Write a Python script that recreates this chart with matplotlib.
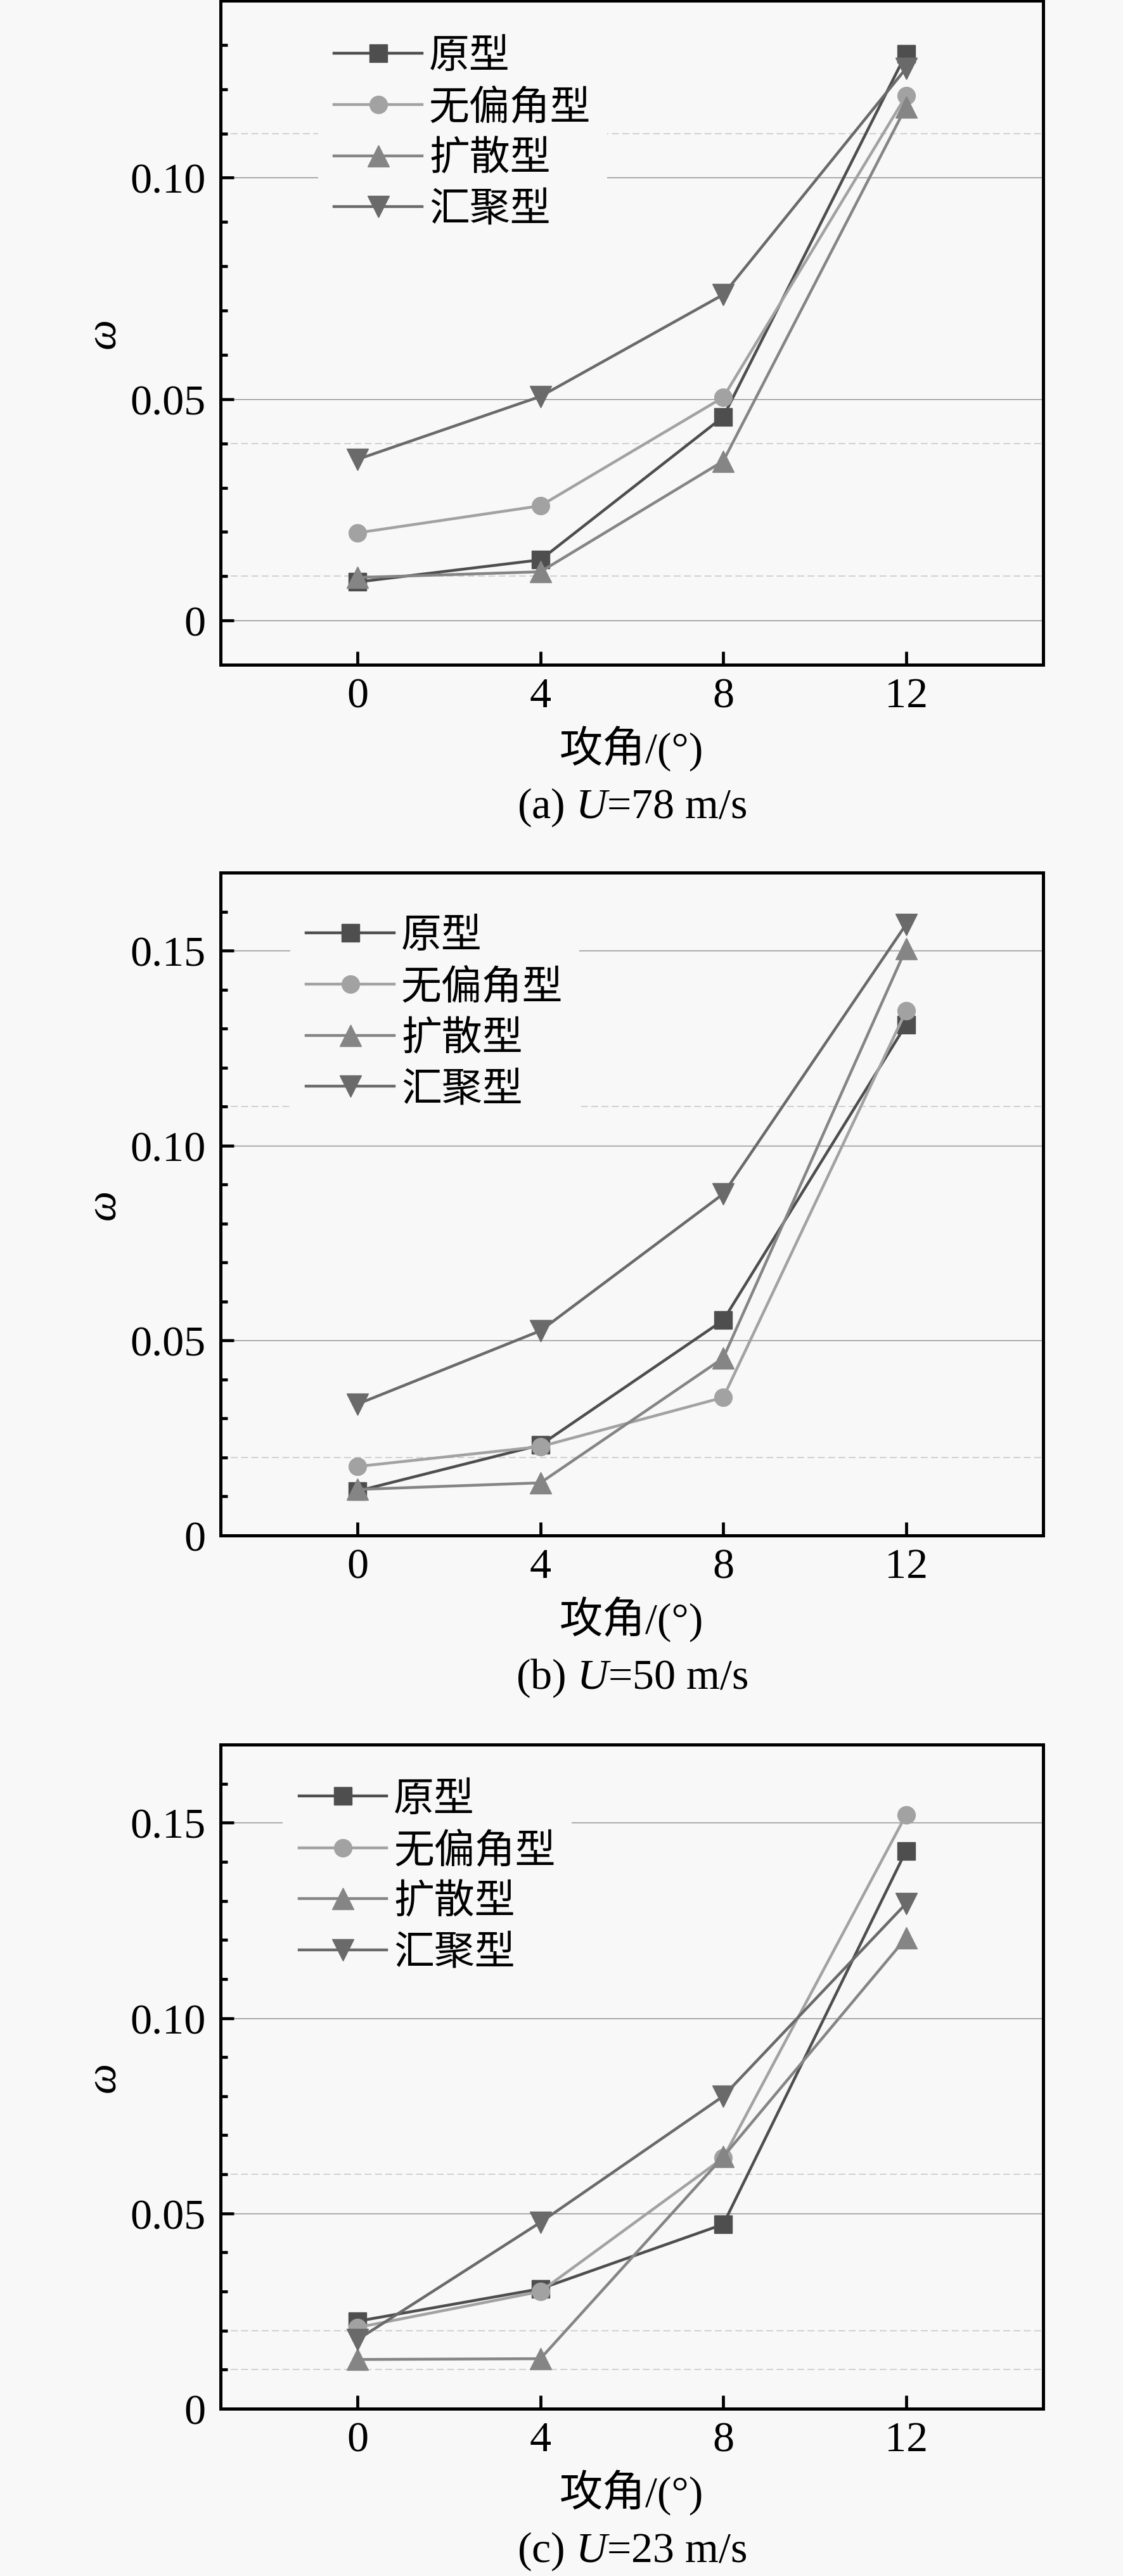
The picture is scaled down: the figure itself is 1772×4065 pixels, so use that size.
import matplotlib
matplotlib.use("Agg")
import matplotlib.pyplot as plt
from matplotlib.ticker import MultipleLocator, FuncFormatter

plt.rcParams["font.family"] = ["Liberation Serif", "Noto Sans CJK SC"]
plt.rcParams["mathtext.fontset"] = "custom"
plt.rcParams["mathtext.rm"] = "Liberation Serif"
plt.rcParams["mathtext.it"] = "Liberation Serif:italic"

W, H = 1772, 4066
BG = "#f8f8f8"

attack_angle = [0, 4, 8, 12]
series_names = ["原型", "无偏角型", "扩散型", "汇聚型"]
series_colors = ["#4e4e4e", "#a2a2a2", "#858585", "#6a6a6a"]
series_markers = ["s", "o", "^", "v"]
marker_sizes = [20, 20, 25, 25]

# (a) U=78 m/s
proto_78 = [0.0087, 0.0137, 0.046, 0.128]
nodev_78 = [0.0198, 0.0259, 0.0504, 0.1185]
diff_78 = [0.0097, 0.011, 0.036, 0.116]
conv_78 = [0.0364, 0.0506, 0.0736, 0.1247]

# (b) U=50 m/s
proto_50 = [0.0114, 0.0232, 0.0552, 0.131]
nodev_50 = [0.0177, 0.0228, 0.0354, 0.1345]
diff_50 = [0.0118, 0.0135, 0.0455, 0.1505]
conv_50 = [0.0337, 0.0525, 0.0876, 0.1567]

# (c) U=23 m/s
proto_23 = [0.0224, 0.0307, 0.0472, 0.1428]
nodev_23 = [0.0208, 0.030, 0.0642, 0.152]
diff_23 = [0.0126, 0.0128, 0.0645, 0.1205]
conv_23 = [0.0177, 0.0477, 0.080, 0.1293]

captions = ["(a) $U$=78 m/s", "(b) $U$=50 m/s", "(c) $U$=23 m/s"]
ylims = [(-0.01, 0.14), (0.0, 0.17), (0.0, 0.17)]
yticks_list = [[0, 0.05, 0.10], [0, 0.05, 0.10, 0.15], [0, 0.05, 0.10, 0.15]]
dotted_list = [[0.01, 0.04, 0.11], [0.02, 0.11], [0.01, 0.02, 0.06]]

# pixel boxes (top, bottom) of each axes and legend anchors
ax_left, ax_right = 348, 1646
ax_rows = [(2, 1050), (1378, 2424), (2754, 3802)]
legend_anchors = [(0.1186, 0.967), (0.0847, 0.955), (0.0755, 0.968)]


def fmt_y(v, pos):
    return "0" if abs(v) < 1e-9 else f"{v:.2f}"


def draw_panel(ax, series, ylim, yticks, dotted, anchor):
    ax.set_facecolor(BG)
    for v in yticks:
        ax.axhline(v, color="#8c8c8c", lw=1.0, zorder=1)
    for v in dotted:
        ax.axhline(v, color="#cdcdcd", lw=1.3, ls=(0, (6, 3)), zorder=1)
    for name, vals, color, marker, ms in zip(series_names, series, series_colors,
                                             series_markers, marker_sizes):
        ax.plot(attack_angle, vals, color=color, marker=marker, ms=ms, lw=3.2,
                mec=color, label=name, zorder=3)
    ax.set_xlim(-3, 15)
    ax.set_ylim(*ylim)
    ax.set_xticks(attack_angle)
    ax.set_yticks(yticks)
    ax.yaxis.set_minor_locator(MultipleLocator(0.01))
    ax.yaxis.set_major_formatter(FuncFormatter(fmt_y))
    ax.tick_params(which="both", direction="in", top=False, right=False, width=3.4)
    ax.tick_params(axis="both", which="major", length=15, labelsize=49)
    ax.tick_params(axis="y", which="major", pad=17)
    ax.tick_params(axis="x", which="major", pad=14)
    ax.tick_params(axis="y", which="minor", length=8)
    for s in ax.spines.values():
        s.set_linewidth(3.6)
    leg = ax.legend(loc="upper left", bbox_to_anchor=anchor, borderaxespad=0,
                    fontsize=46, handlelength=2.17, handletextpad=0.17,
                    labelspacing=0.335, borderpad=0.4, frameon=True,
                    fancybox=False, framealpha=1)
    leg.get_frame().set_facecolor(BG)
    leg.get_frame().set_edgecolor("none")


fig = plt.figure(figsize=(W / 100, H / 100), dpi=100, facecolor=BG)

panel_series = [
    [proto_78, nodev_78, diff_78, conv_78],
    [proto_50, nodev_50, diff_50, conv_50],
    [proto_23, nodev_23, diff_23, conv_23],
]

xc = (ax_left + ax_right) / 2 / W
for i, (top, bottom) in enumerate(ax_rows):
    ax = fig.add_axes([ax_left / W, 1 - bottom / H, (ax_right - ax_left) / W, (bottom - top) / H])
    draw_panel(ax, panel_series[i], ylims[i], yticks_list[i], dotted_list[i], legend_anchors[i])
    fig.text(164 / W, 1 - (top + bottom) / 2 / H, "ω", fontsize=49, style="italic",
             rotation=90, ha="center", va="center")
    fig.text(xc, 1 - (bottom + 132) / H, "攻角/(°)", fontsize=49, ha="center", va="center")
    fig.text(xc, 1 - (bottom + 224) / H, captions[i], fontsize=49, ha="center", va="center")

fig.savefig("out.png", dpi=100, facecolor=BG)
